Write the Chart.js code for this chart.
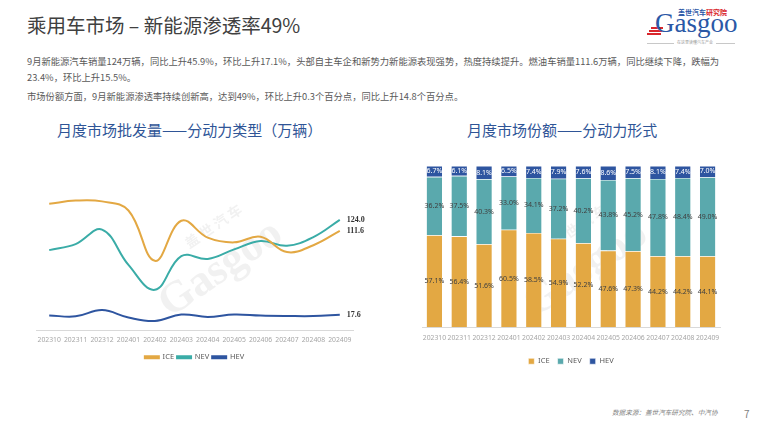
<!DOCTYPE html>
<html>
<head>
<meta charset="utf-8">
<script src="https://cdn.jsdelivr.net/npm/chart.js@4.4.1/dist/chart.umd.min.js"></script>
<style>
  body { margin: 0; background: #fff; font-family: "Noto Sans CJK SC", "Noto Sans", sans-serif; }
  #page { position: relative; width: 760px; height: 428px; overflow: hidden; background: #fff; }
  .abs { position: absolute; white-space: nowrap; }
  #title { left: 27px; top: 10px; font-size: 19.5px; color: #404040; }
  .para { left: 27px; font-size: 9.3px; color: #595959; }
  .ctitle { font-size: 15px; color: #2f5597; }
  #logo-top { left: 678px; top: 9px; font-size: 7px; font-weight: bold; color: #2b58a6; line-height: 1; }
  #logo-top span { color: #d9262c; }
  #logo-main { left: 655px; top: 10px; font-family: "Liberation Serif", serif; font-size: 27px; line-height: 1; color: #2b58a6; }
  .stripe { position: absolute; height: 1.5px; background: #d9262c; }
  #logo-line { left: 647px; top: 43px; width: 88px; height: 1px; background: #c8c8c8; }
  #logo-sub { left: 674px; top: 40px; font-size: 4px; line-height: 1; color: #999; background: #fff; padding: 0 3px; }
  #source { left: 612px; top: 407px; font-size: 6.6px; color: #7f7f7f; font-style: italic; }
  #pnum { left: 744px; top: 406px; font-size: 10px; color: #7f7f7f; }
  canvas { position: absolute; }
</style>
</head>
<body>
<div id="page">
  <div class="abs" id="title">乘用车市场 – 新能源渗透率49%</div>
  <div class="abs para" style="top:54px">9月新能源汽车销量124万辆，同比上升45.9%，环比上升17.1%，头部自主车企和新势力新能源表现强势，热度持续提升。燃油车销量111.6万辆，同比继续下降，跌幅为</div>
  <div class="abs para" style="top:70px">23.4%，环比上升15.5%。</div>
  <div class="abs para" style="top:89px">市场份额方面，9月新能源渗透率持续创新高，达到49%，环比上升0.3个百分点，同比上升14.8个百分点。</div>

  <div class="abs" id="logo-top">盖世汽车<span>研究院</span></div>
  <div class="stripe" style="left:651px;top:27px;width:12px"></div>
  <div class="stripe" style="left:649px;top:30px;width:13px"></div>
  <div class="stripe" style="left:647px;top:33px;width:14px"></div>
  <div class="abs" id="logo-main">Gasgoo</div>
  <div class="abs" id="logo-line"></div>
  <div class="abs" id="logo-sub">在这里读懂汽车产业</div>

  <div class="abs ctitle" style="left:57px;top:119px">月度市场批发量——分动力类型（万辆）</div>
  <div class="abs ctitle" style="left:467px;top:119px">月度市场份额——分动力形式</div>

  <canvas id="lineChart" width="350" height="225" style="left:20px;top:150px"></canvas>
  <canvas id="barChart" width="340" height="225" style="left:400px;top:150px"></canvas>

  <div class="abs" id="source">数据来源：盖世汽车研究院、中汽协</div>
  <div class="abs" id="pnum">7</div>
</div>

<script>
// --- DADOS ---
const months = ['202310', '202311', '202312', '202401', '202402', '202403', '202404', '202405', '202406', '202407', '202408', '202409'];

// volumes (万辆)
const iceVolume = [142.0, 145.6, 144.7, 134.5, 78.0, 123.0, 104.0, 98.7, 105.0, 87.8, 95.5, 111.6];
const nevVolume = [90.0, 96.8, 113.0, 73.4, 45.5, 83.3, 80.1, 90.8, 100.3, 94.9, 104.6, 124.0];
const hevVolume = [16.7, 15.7, 22.7, 14.4, 10.5, 17.7, 15.1, 17.8, 16.6, 16.1, 16.0, 17.6];

// shares (%)
const iceShare = [57.1, 56.4, 51.6, 60.5, 58.5, 54.9, 52.2, 47.6, 47.3, 44.2, 44.2, 44.1];
const nevShare = [36.2, 37.5, 40.3, 33.0, 34.1, 37.2, 40.2, 43.8, 45.2, 47.8, 48.4, 49.0];
const hevShare = [6.7, 6.1, 8.1, 6.5, 7.4, 7.9, 7.6, 8.6, 7.5, 8.1, 7.4, 7.0];

const seriesNames = ['ICE', 'NEV', 'HEV'];

const ICE_COLOR = '#e3a843';
const NEV_LINE = '#3aaca7';
const NEV_BAR = '#5aa9ad';
const HEV_COLOR = '#2e55a0';

// marca d'água
const watermark = {
    id: 'watermark',
    beforeDatasetsDraw(chart, args, opts) {
        const ctx = chart.ctx;
        ctx.save();
        ctx.translate(opts.x, opts.y);
        ctx.rotate(-0.6);
        ctx.fillStyle = 'rgba(160,160,160,0.15)';
        ctx.font = 'bold 14px "Noto Sans CJK SC"';
        ctx.fillText('盖 世 汽 车', 10, -30);
        ctx.font = 'bold 44px "Liberation Serif"';
        ctx.fillText('Gasgoo', -45, 10);
        ctx.restore();
    }
};

// rótulos no fim das linhas
const endLabels = {
    id: 'endLabels',
    afterDatasetsDraw(chart) {
        const ctx = chart.ctx;
        ctx.save();
        ctx.font = 'bold 8px "Liberation Serif"';
        ctx.fillStyle = '#333';
        ctx.textBaseline = 'middle';
        chart.data.datasets.forEach((ds, i) => {
            const meta = chart.getDatasetMeta(i);
            const last = meta.data[meta.data.length - 1];
            ctx.fillText(ds.data[ds.data.length - 1].toFixed(1), last.x + 7, last.y);
        });
        ctx.restore();
    }
};

// rótulos dentro das barras
const barLabels = {
    id: 'barLabels',
    afterDatasetsDraw(chart) {
        const ctx = chart.ctx;
        ctx.save();
        ctx.font = '7px "Noto Sans"';
        ctx.textAlign = 'center';
        ctx.textBaseline = 'middle';
        chart.data.datasets.forEach((ds, i) => {
            const meta = chart.getDatasetMeta(i);
            meta.data.forEach((bar, j) => {
                const mid = (bar.y + bar.base) / 2;
                ctx.fillStyle = i === 2 ? '#fff' : '#404040';
                ctx.fillText(ds.data[j].toFixed(1) + '%', bar.x, mid);
            });
        });
        ctx.restore();
    }
};

const tickFont = { family: 'Noto Sans', size: 6.8 };
const legendFont = { family: 'Noto Sans', size: 7.5 };

document.addEventListener('DOMContentLoaded', () => {
    // --- GRÁFICO DE LINHAS ---
    new Chart(document.getElementById('lineChart').getContext('2d'), {
        type: 'line',
        data: {
            labels: months,
            datasets: [
                { label: seriesNames[0], data: iceVolume, borderColor: ICE_COLOR, backgroundColor: ICE_COLOR },
                { label: seriesNames[1], data: nevVolume, borderColor: NEV_LINE, backgroundColor: NEV_LINE },
                { label: seriesNames[2], data: hevVolume, borderColor: HEV_COLOR, backgroundColor: HEV_COLOR }
            ]
        },
        options: {
            responsive: false,
            animation: false,
            layout: { padding: { left: 16, right: 17, top: 11, bottom: 4 } },
            elements: { line: { tension: 0.4, borderWidth: 2 }, point: { radius: 0 } },
            scales: {
                x: {
                    offset: true,
                    grid: { display: false, drawTicks: false },
                    border: { color: '#d9d9d9' },
                    ticks: { font: tickFont, color: '#a6a6a6', maxRotation: 0, autoSkip: false, padding: 6 }
                },
                y: { display: false, min: 0, max: 190 }
            },
            plugins: {
                legend: {
                    position: 'bottom',
                    labels: { boxWidth: 14, boxHeight: 2, font: legendFont, color: '#595959', padding: 3 }
                },
                tooltip: { enabled: false },
                watermark: { x: 175, y: 125 }
            }
        },
        plugins: [watermark, endLabels]
    });

    // --- GRÁFICO DE BARRAS ---
    new Chart(document.getElementById('barChart').getContext('2d'), {
        type: 'bar',
        data: {
            labels: months,
            datasets: [
                { label: seriesNames[0], data: iceShare, backgroundColor: ICE_COLOR },
                { label: seriesNames[1], data: nevShare, backgroundColor: NEV_BAR },
                { label: seriesNames[2], data: hevShare, backgroundColor: HEV_COLOR }
            ]
        },
        options: {
            responsive: false,
            animation: false,
            layout: { padding: { left: 22, right: 20, top: 16, bottom: 0 } },
            datasets: { bar: { categoryPercentage: 1, barPercentage: 0.66, borderColor: '#fff', borderWidth: 0.6 } },
            scales: {
                x: {
                    stacked: true,
                    grid: { display: false, drawTicks: false },
                    border: { color: '#d9d9d9' },
                    ticks: { font: tickFont, color: '#a6a6a6', maxRotation: 0, autoSkip: false, padding: 7 }
                },
                y: { stacked: true, display: false, min: 0, max: 100 }
            },
            plugins: {
                legend: {
                    position: 'bottom',
                    labels: { boxWidth: 6, boxHeight: 6, font: legendFont, color: '#595959', padding: 8 }
                },
                tooltip: { enabled: false },
                watermark: { x: 160, y: 125 }
            }
        },
        plugins: [watermark, barLabels]
    });
});
</script>
</body>
</html>
